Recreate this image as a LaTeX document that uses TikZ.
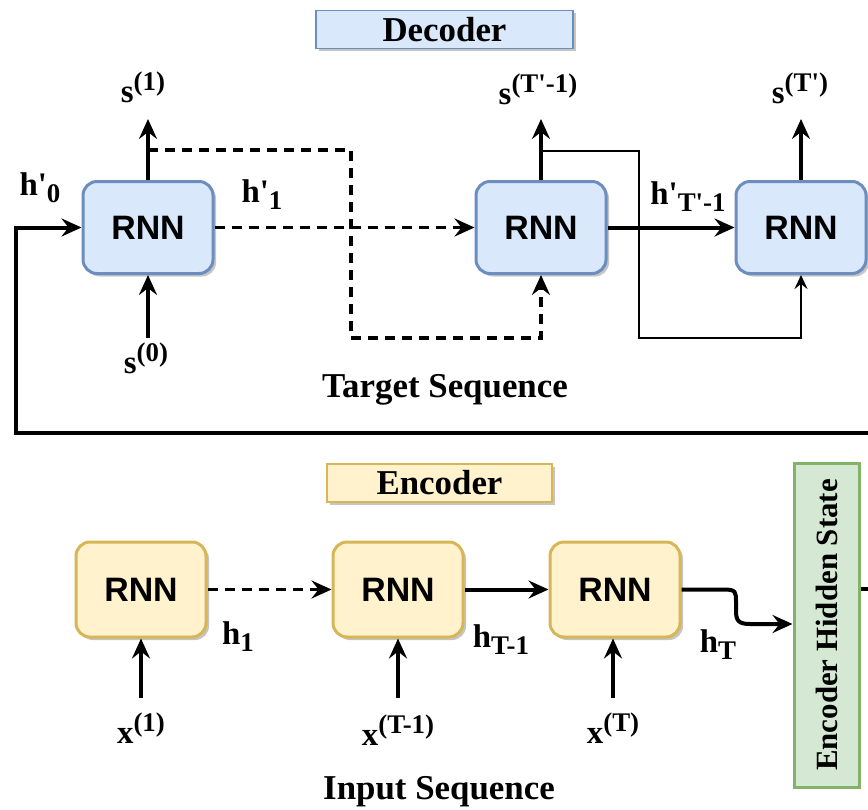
\documentclass[tikz,border=0pt]{standalone}
\usepackage{fontspec}
\newfontfamily\serifb{Liberation Serif}
\newfontfamily\sansb{Liberation Sans}
\usetikzlibrary{arrows.meta,shadows}
\definecolor{dfill}{HTML}{DAE8FC}
\definecolor{dline}{HTML}{6C8EBF}
\definecolor{efill}{HTML}{FFF2CC}
\definecolor{eline}{HTML}{D6B656}
\definecolor{gfill}{HTML}{D5E8D4}
\definecolor{gline}{HTML}{82B366}
\newcommand{\Lb}{\serifb\bfseries\fontsize{33}{33}\selectfont}
\newcommand{\Sc}{\fontsize{27}{27}\selectfont}
\newcommand{\mysup}[2]{#1\raisebox{12bp}{\Sc #2}}
\newcommand{\mysub}[2]{#1\raisebox{-7bp}{\Sc #2}}
\begin{document}
\begin{tikzpicture}[x=1bp,y=-1bp,
  shad/.style={drop shadow={shadow xshift=3bp,shadow yshift=-3bp,fill=black!45,opacity=0.5}},
  rnn/.style={shad,rounded corners=14bp,line width=3bp,minimum width=130bp,font=\sansb\bfseries\fontsize{34}{34}\selectfont,inner sep=0pt},
  dec/.style={rnn,draw=dline,fill=dfill,minimum height=92bp},
  enc/.style={rnn,draw=eline,fill=efill,minimum height=95bp},
  ttl/.style={shad,line width=1.8bp,minimum height=38bp,font=\serifb\bfseries\fontsize{35}{35}\selectfont,inner sep=0pt},
  lbl/.style={font=\Lb,inner sep=0pt},
  seqlbl/.style={font=\serifb\bfseries\fontsize{35}{35}\selectfont,inner sep=0pt},
  arr/.style={line width=4bp,-{Stealth[length=20bp,width=18bp,inset=7bp]}},
  ln/.style={line width=4bp},
  darr/.style={line width=3.5bp,dash pattern=on 10bp off 7bp,-{Stealth[length=20bp,width=18bp,inset=7bp]}},
  tarr/.style={line width=2.2bp,-{Stealth[length=14bp,width=13bp,inset=5bp]}},
]
\useasboundingbox (0,0) rectangle (868,810);
\clip (0,0) rectangle (868,810);

% ---------- Decoder ----------
\node[ttl,draw=dline,fill=dfill,minimum width=257bp] (dt) at (444.5,29.5) {Decoder};
\node[dec] (d1) at (148,227.5) {RNN};
\node[dec] (d2) at (541,227.5) {RNN};
\node[dec] (d3) at (801,227.5) {RNN};

\node[lbl] (ls1) at (143,87) {\mysup{s}{(1)}};
\node[lbl] (ls2) at (538,89) {\mysup{s}{(T'-1)}};
\node[lbl] (ls3) at (800,88) {\mysup{s}{(T')}};
\node[lbl] (ls0) at (146,358) {\mysup{s}{(0)}};
\node[lbl] (lh0) at (40,188) {\mysub{h'}{0}};
\node[lbl,fill=white] (lh1) at (262,195) {\mysub{h'}{1}};
\node[lbl] (lh2) at (688,197) {\mysub{h'}{T'-1}};
\node[seqlbl] (tseq) at (445,390) {Target Sequence};

\coordinate (s1top) at (148,119);
\coordinate (s2top) at (541,119);
\coordinate (s3top) at (801,119);
\coordinate (s0bot) at (148,338);
\coordinate (dsplit) at (148,150);
\coordinate (c1) at (351,338);
\coordinate (tsplit) at (541,151);
\coordinate (c2) at (639,338);
\coordinate (fbR) at (880,433);
\coordinate (fbL) at (16,433);

\draw[arr] (d1.north) -- (s1top);
\draw[arr] (d2.north) -- (s2top);
\draw[arr] (d3.north) -- (s3top);
\draw[arr] (s0bot) -- (d1.south);
\draw[darr] (d1.east) -- (d2.west);
\draw[darr] (dsplit) -| (c1) -| (d2.south);
\draw[tarr] (tsplit) -| (c2) -| (d3.south);
\draw[arr] (d2.east) -- (d3.west);
\draw[arr] (fbR) -- (fbL) |- (d1.west);

% ---------- Encoder ----------
\node[ttl,draw=eline,fill=efill,minimum width=225bp] (et) at (439.5,483) {Encoder};
\node[enc] (e1) at (141,589.5) {RNN};
\node[enc] (e2) at (398,589.5) {RNN};
\node[enc] (e3) at (615,589.5) {RNN};
\node[draw=gline,fill=gfill,line width=3bp,minimum width=65bp,minimum height=324bp,inner sep=0pt,
      font=\serifb\bfseries\fontsize{31}{31}\selectfont] (hs) at (826.5,625) {\rotatebox{90}{Encoder Hidden State}};

\node[lbl] (lx1) at (141,728) {\mysup{x}{(1)}};
\node[lbl] (lx2) at (398,730) {\mysup{x}{(T-1)}};
\node[lbl] (lx3) at (613,728) {\mysup{x}{(T)}};
\node[lbl] (lhe1) at (238,637) {\mysub{h}{1}};
\node[lbl] (lhe2) at (501,640) {\mysub{h}{T-1}};
\node[lbl] (lhe3) at (718,645) {\mysub{h}{T}};
\node[seqlbl] (iseq) at (439,792) {Input Sequence};

\coordinate (x1bot) at (141,698);
\coordinate (x2bot) at (398,698);
\coordinate (x3bot) at (613,698);
\coordinate (hsR) at (880,589);
\coordinate (hin) at (794,624);

\draw[arr] (x1bot) -- (e1.south -| x1bot);
\draw[arr] (x2bot) -- (e2.south -| x2bot);
\draw[arr] (x3bot) -- (e3.south -| x3bot);
\draw[darr] (e1.east) -- (e2.west);
\draw[arr] (e2.east) -- (e3.west);
\draw[arr] (e3.east) -- (724,589.5) .. controls (736,589.5) and (736,592) .. (736,602)
  -- (736,611) .. controls (736,621) and (739,624) .. (750,624) -- (hs.west |- hin);
\draw[ln] (hs.east |- hsR) -- (hsR);
\end{tikzpicture}
\end{document}
